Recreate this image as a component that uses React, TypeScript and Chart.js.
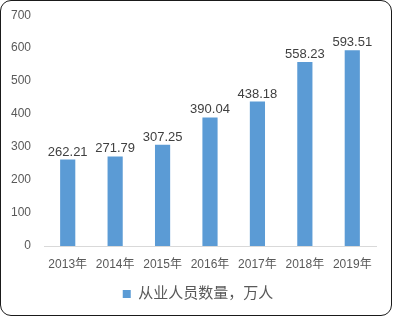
import React, { useEffect, useRef } from "react";
import { Chart, registerables } from "chart.js";

Chart.register(...registerables);

const categories = ["2013年", "2014年", "2015年", "2016年", "2017年", "2018年", "2019年"];
const values = [262.21, 271.79, 307.25, 390.04, 438.18, 558.23, 593.51];
const seriesName = "从业人员数量，万人";
const yTicks = [0, 100, 200, 300, 400, 500, 600, 700];

const FONT = "'Liberation Sans', 'Noto Sans CJK SC', sans-serif";

const legendShift = {
  id: "legendShift",
  afterLayout(chart: any) {
    if (chart.legend) {
      chart.legend.left += 10;
      chart.legend.right += 10;
    }
  },
};

const valueLabels = {
  id: "valueLabels",
  afterDatasetsDraw(chart: any) {
    const ctx = chart.ctx;
    const meta = chart.getDatasetMeta(0);
    ctx.save();
    ctx.font = `13px ${FONT}`;
    ctx.fillStyle = "#404040";
    ctx.textAlign = "center";
    ctx.textBaseline = "bottom";
    meta.data.forEach((bar: any, i: number) => {
      ctx.fillText(values[i].toFixed(2), bar.x, bar.y - 1);
    });
    ctx.restore();
  },
};

export default function App() {
  const ref = useRef<HTMLCanvasElement>(null);
  useEffect(() => {
    if (!ref.current) return;
    const chart: any = new Chart(ref.current, {
      type: "bar",
      data: {
        labels: categories,
        datasets: [{ label: seriesName, data: values, backgroundColor: "#5B9BD5", barPercentage: 0.64, categoryPercentage: 0.5 }],
      },
      options: {
        animation: false,
        responsive: false,
        maintainAspectRatio: false,
        layout: { padding: { top: 15.2, right: 17, bottom: 5.5, left: 0 } },
        plugins: {
          tooltip: { enabled: false },
          legend: { position: "bottom", labels: { boxWidth: 8, boxHeight: 8, color: "#595959", font: { size: 15, family: FONT }, padding: 4.1 } },
        },
        scales: {
          x: { grid: { display: false, drawTicks: false }, border: { display: true, color: "#D9D9D9" }, ticks: { color: "#595959", font: { size: 12, family: FONT }, padding: 11 } },
          y: {
            min: 0, max: 700,
            afterBuildTicks: (scale: any) => { scale.ticks = yTicks.map((v) => ({ value: v })); },
            afterFit: (scale: any) => {
              scale.width = 44;
              scale.paddingTop = 0;
              scale.paddingBottom = 0;
            },
            grid: { display: false, drawTicks: false }, border: { display: false },
            ticks: { color: "#595959", font: { size: 12, family: FONT }, padding: 13 },
          },
        },
      },
      plugins: [legendShift, valueLabels],
    });
    return () => chart.destroy();
  }, []);
  return (
    <div style={{ position: "fixed", left: 0, top: 0, width: 393, height: 317, background: "#fff" }}>
      <canvas ref={ref} width={393} height={317} style={{ position: "absolute", left: 0, top: 0 }} />
      <div
        style={{
          position: "absolute",
          left: 0,
          top: 0,
          width: 392,
          height: 316,
          boxSizing: "border-box",
          border: "1.5px solid #1a1a1a",
          borderRadius: 11,
          pointerEvents: "none",
        }}
      />
    </div>
  );
}
